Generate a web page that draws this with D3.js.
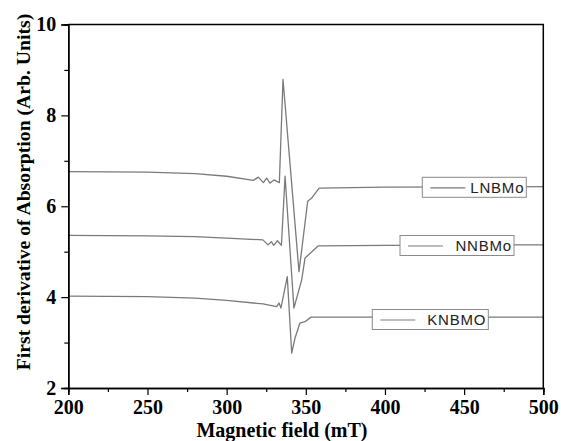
<!DOCTYPE html>
<html>
<head lang="en">
    <meta charset="UTF-8">
    <title>EPR spectra</title>
    <script src="https://cdn.jsdelivr.net/npm/d3@7"></script>
    <style>
        body { margin: 0; background: #fff; }
        .tick text { font-family: "Liberation Serif", "Times New Roman", serif; font-weight: bold; font-size: 20px; fill: #000; }
        .lbl { font-family: "Liberation Serif", "Times New Roman", serif; font-weight: bold; font-size: 20px; fill: #000; }
        .leg { font-family: "Liberation Sans", Arial, sans-serif; font-size: 15px; letter-spacing: 0.8px; fill: #222; }
    </style>
</head>
<body>
<div id="chart"></div>
<script>
// magnetic field (mT) and signal for each sample
var lnbmoField = [200, 250, 280, 300, 316.8, 320, 323.2, 325.3, 327.4, 329.9, 333.3, 335.6, 345.7, 351.2, 353.7, 358.4, 400, 500];
var lnbmoValue = [6.76, 6.75, 6.72, 6.66, 6.57, 6.64, 6.52, 6.62, 6.51, 6.58, 6.52, 8.79, 4.56, 6.11, 6.18, 6.40, 6.42, 6.43];

var nnbmoField = [200, 250, 280, 300, 322.9, 326.1, 328.3, 329.7, 332.1, 334.6, 336.9, 342.5, 347.4, 349.5, 357.9, 400, 500];
var nnbmoValue = [5.36, 5.35, 5.33, 5.30, 5.26, 5.15, 5.22, 5.14, 5.24, 5.14, 6.66, 3.76, 4.38, 4.86, 5.13, 5.14, 5.15];

var knbmoField = [200, 250, 280, 300, 323, 331.6, 333.1, 334.3, 338.3, 341.1, 343.2, 346.3, 349.5, 353.3, 400, 500];
var knbmoValue = [4.02, 4.01, 3.98, 3.93, 3.85, 3.79, 3.87, 3.76, 4.45, 2.77, 3.10, 3.43, 3.46, 3.56, 3.56, 3.56];

var seriesNames = ["LNBMo", "NNBMo", "KNBMO"];
var xTicks = [200, 250, 300, 350, 400, 450, 500];
var yTicks = [2, 4, 6, 8, 10];

var width = 561, height = 441;
var margin = {top: 24.5, right: 17.7, bottom: 53, left: 68.3};

var svg = d3.select("#chart").append("svg")
        .attr("width", width)
        .attr("height", height);

var x = d3.scaleLinear().domain([200, 500]).range([margin.left, width - margin.right]);
var y = d3.scaleLinear().domain([2, 10]).range([height - margin.bottom, margin.top]);

var series = [
    d3.zip(lnbmoField, lnbmoValue),
    d3.zip(nnbmoField, nnbmoValue),
    d3.zip(knbmoField, knbmoValue)
];

var line = d3.line().x(function (d) { return x(d[0]); }).y(function (d) { return y(d[1]); });

svg.append("g").selectAll("path")
        .data(series)
        .enter().append("path")
        .attr("d", line)
        .attr("fill", "none")
        .attr("stroke", "#7a7a7a")
        .attr("stroke-width", 1.3)
        .attr("stroke-linejoin", "round");

// legend boxes sit on top of each curve's flat tail
var legPos = [[422.3, 177.3, 104], [400, 235.5, 114], [372.3, 309.5, 116]];
var leg = svg.append("g").selectAll("g")
        .data(seriesNames)
        .enter().append("g")
        .attr("transform", function (d, i) { return "translate(" + legPos[i][0] + "," + legPos[i][1] + ")"; });
leg.append("rect")
        .attr("width", function (d, i) { return legPos[i][2]; })
        .attr("height", 20)
        .attr("fill", "#fff")
        .attr("stroke", "#8a8a8a")
        .attr("stroke-width", 1);
leg.append("line")
        .attr("x1", 8).attr("x2", 43)
        .attr("y1", 10.5).attr("y2", 10.5)
        .attr("stroke", "#7a7a7a")
        .attr("stroke-width", 1.2);
leg.append("text")
        .attr("class", "leg")
        .attr("x", function (d, i) { return legPos[i][2] - 2; })
        .attr("y", 15.5)
        .attr("text-anchor", "end")
        .text(function (d) { return d; });

// axes
svg.append("g")
        .attr("transform", "translate(0," + y(2) + ")")
        .call(d3.axisBottom(x).tickValues(xTicks).tickSize(7).tickPadding(5));
svg.append("g")
        .attr("transform", "translate(0," + y(2) + ")")
        .call(d3.axisBottom(x).tickValues(d3.range(225, 500, 50)).tickSize(4).tickFormat(""));
svg.append("g")
        .attr("transform", "translate(" + x(200) + ",0)")
        .call(d3.axisLeft(y).tickValues(yTicks).tickSize(7).tickPadding(5));
svg.append("g")
        .attr("transform", "translate(" + x(200) + ",0)")
        .call(d3.axisLeft(y).tickValues([3, 5, 7, 9]).tickSize(4).tickFormat(""));
svg.selectAll(".domain").attr("stroke", "#000").attr("stroke-width", 1.5);
svg.selectAll(".tick line").attr("stroke", "#000").attr("stroke-width", 1.2);

// top and right frame
svg.append("path")
        .attr("d", "M" + x(200) + "," + y(10) + "H" + x(500) + "V" + y(2))
        .attr("fill", "none")
        .attr("stroke", "#000")
        .attr("stroke-width", 1.5);

svg.append("text")
        .attr("class", "lbl")
        .attr("x", 282)
        .attr("y", 437)
        .attr("text-anchor", "middle")
        .text("Magnetic field (mT)");

svg.append("text")
        .attr("class", "lbl")
        .attr("transform", "translate(30,192) rotate(-90)")
        .attr("text-anchor", "middle")
        .style("font-size", "19.7px")
        .text("First derivative of Absorption (Arb. Units)");
</script>
</body>
</html>
